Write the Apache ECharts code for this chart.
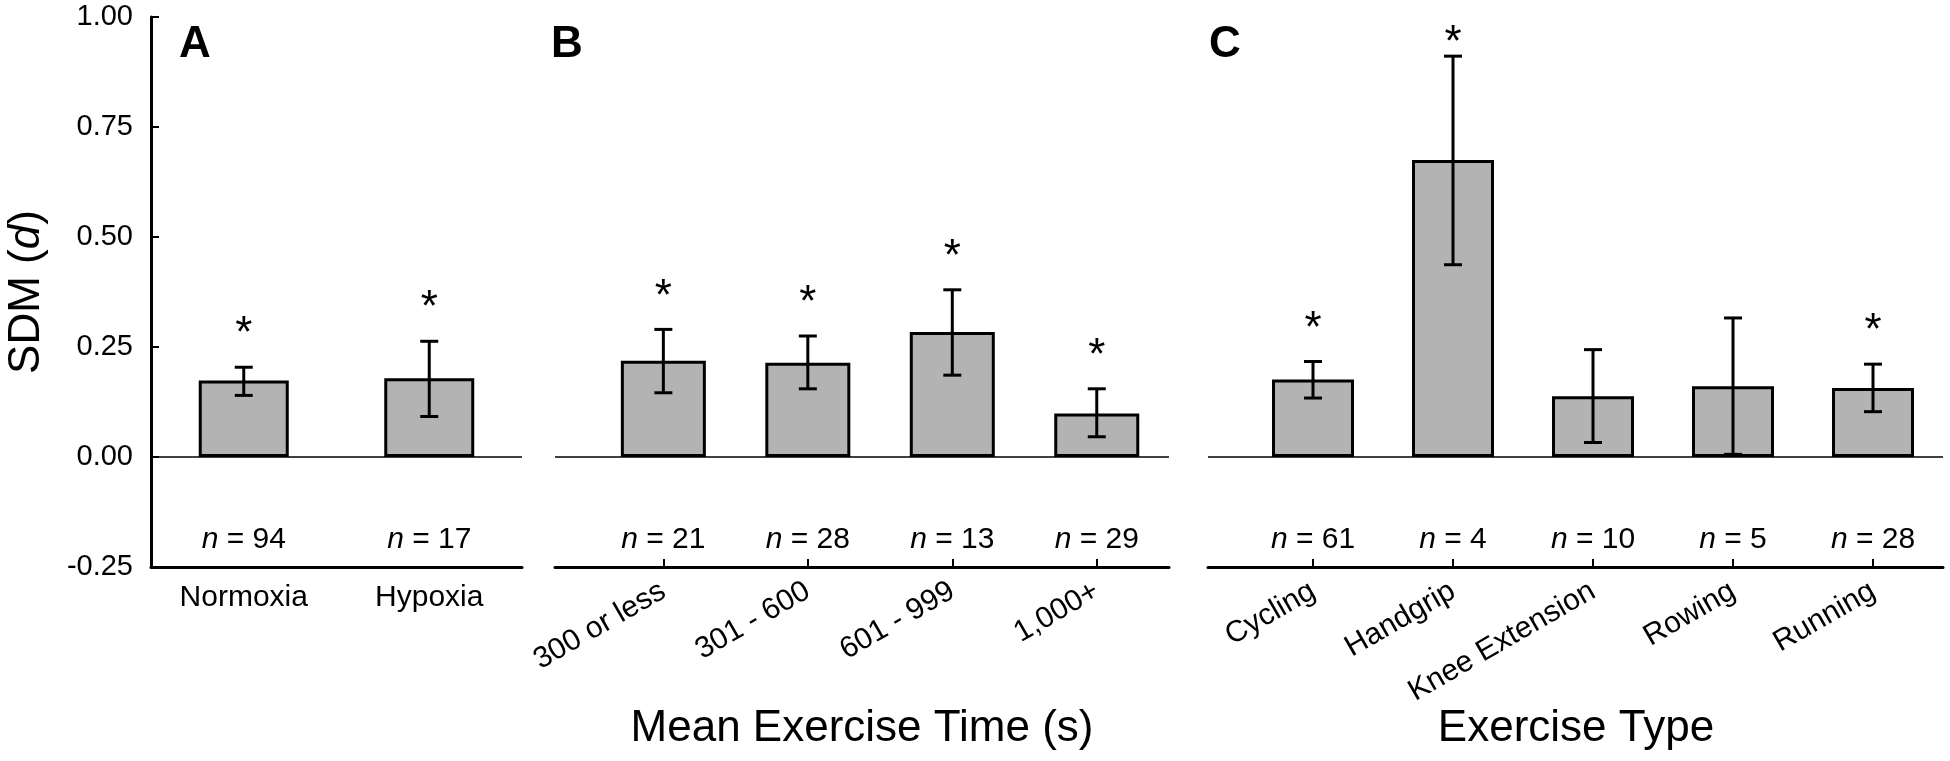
<!DOCTYPE html>
<html><head><meta charset="utf-8">
<script src="https://cdn.jsdelivr.net/npm/echarts@6/dist/echarts.min.js"></script>
<style>html,body{margin:0;padding:0;background:#fff}#c{width:1950px;height:761px}</style>
</head><body><div id="c"></div>
<script>
// ---- data ----
const yTickMin = -0.25, yTickMax = 1.0, yTickStep = 0.25;

const catsA = ['Normoxia', 'Hypoxia'];
const meanA = [0.174, 0.179];
const lowA  = [0.140, 0.092];
const highA = [0.204, 0.263];
const nA    = [94, 17];
const sigA  = [1, 1];

const catsB = ['300 or less', '301 - 600', '601 - 999', '1,000+'];
const meanB = [0.219, 0.214, 0.284, 0.099];
const lowB  = [0.146, 0.155, 0.186, 0.046];
const highB = [0.290, 0.275, 0.380, 0.155];
const nB    = [21, 28, 13, 29];
const sigB  = [1, 1, 1, 1];

const catsC = ['Cycling', 'Handgrip', 'Knee Extension', 'Rowing', 'Running'];
const meanC = [0.176, 0.675, 0.138, 0.161, 0.157];
const lowC  = [0.134, 0.437, 0.033, 0.006, 0.103];
const highC = [0.217, 0.911, 0.244, 0.316, 0.211];
const nC    = [61, 4, 10, 5, 28];
const sigC  = [1, 1, 0, 0, 1];

const nLabelY = -0.187;

// ---- chart ----
const FF = '"Liberation Sans", Arial, Helvetica, sans-serif';
const chart = echarts.init(document.getElementById('c'), null, {renderer: 'canvas'});

const panels = [
  {cats: catsA, mean: meanA, low: lowA, high: highA, n: nA, sig: sigA, left: 151, width: 371, min: 0.5, max: 2.5, barW: 90, ticks: false, rotate: 0},
  {cats: catsB, mean: meanB, low: lowB, high: highB, n: nB, sig: sigB, left: 555, width: 614, min: 0.25, max: 4.5, barW: 85, ticks: true, rotate: 30},
  {cats: catsC, mean: meanC, low: lowC, high: highC, n: nC, sig: sigC, left: 1208, width: 735, min: 0.25, max: 5.5, barW: 82, ticks: true, rotate: 30}
];

function errItem(params, api) {
  const x = api.value(0), lo = api.value(1), hi = api.value(2), s = api.value(3);
  const top = api.coord([x, hi]), bot = api.coord([x, lo]);
  const cap = 9;
  const ls = {stroke: '#000', lineWidth: 3};
  const ch = [
    {type: 'line', shape: {x1: top[0], y1: top[1], x2: bot[0], y2: bot[1]}, style: ls},
    {type: 'line', shape: {x1: top[0] - cap, y1: top[1], x2: top[0] + cap, y2: top[1]}, style: ls},
    {type: 'line', shape: {x1: bot[0] - cap, y1: bot[1], x2: bot[0] + cap, y2: bot[1]}, style: ls}
  ];
  if (s) ch.push({type: 'text', x: top[0], y: Math.max(top[1] - 32, 44),
    style: {text: '*', fontSize: 44, fontFamily: FF, fill: '#000', align: 'center', verticalAlign: 'middle'}});
  return {type: 'group', children: ch};
}

function nItem(params, api) {
  const p = api.coord([api.value(0), api.value(1)]);
  return {type: 'text', x: p[0], y: p[1],
    style: {text: '{i|n} = ' + api.value(2), fontSize: 30, fontFamily: FF, fill: '#000',
      align: 'center', verticalAlign: 'middle',
      rich: {i: {fontStyle: 'italic', fontSize: 30, fontFamily: FF, fill: '#000'}}}};
}

const grid = [], xAxis = [], yAxis = [], series = [];
panels.forEach((p, k) => {
  grid.push({left: p.left, width: p.width, top: 17, bottom: 194, containLabel: false});
  const vals = p.cats.map((c, i) => i + 1);
  xAxis.push({
    type: 'value', gridIndex: k, min: p.min, max: p.max,
    axisLine: {show: true, onZero: false, lineStyle: {color: '#000', width: 3}},
    axisTick: {show: p.ticks, inside: true, length: 8, lineStyle: {color: '#000', width: 2}, customValues: vals},
    splitLine: {show: false},
    axisLabel: {customValues: vals, formatter: v => p.cats[Math.round(v) - 1], rotate: p.rotate,
      fontSize: 30, color: '#000', fontFamily: FF, margin: p.rotate ? 22 : 16}
  });
  yAxis.push({
    type: 'value', gridIndex: k, min: yTickMin, max: yTickMax, interval: yTickStep,
    show: k === 0,
    axisLine: {show: true, lineStyle: {color: '#000', width: 3}},
    axisTick: {show: true, inside: true, length: 8, lineStyle: {color: '#000', width: 2}},
    splitLine: {show: false},
    axisLabel: {formatter: v => v.toFixed(2), fontSize: 29, color: '#000', fontFamily: FF, margin: 18}
  });
  series.push({
    type: 'bar', xAxisIndex: k, yAxisIndex: k, barWidth: p.barW,
    data: p.mean.map((v, i) => [i + 1, v]),
    itemStyle: {color: '#b3b3b3', borderColor: '#000', borderWidth: 3},
    markLine: {silent: true, symbol: 'none', label: {show: false},
      lineStyle: {color: '#000', width: 1.5, type: 'solid'}, data: [{yAxis: 0}]},
    z: 2
  });
  series.push({
    type: 'custom', xAxisIndex: k, yAxisIndex: k, renderItem: errItem, z: 5,
    data: p.mean.map((v, i) => [i + 1, p.low[i], p.high[i], p.sig[i]])
  });
  series.push({
    type: 'custom', xAxisIndex: k, yAxisIndex: k, renderItem: nItem, z: 5,
    data: p.n.map((v, i) => [i + 1, nLabelY, v])
  });
});

const txt = (t, x, y, size, extra) => Object.assign({type: 'text', x: x, y: y, silent: true,
  style: Object.assign({text: t, fontSize: size, fontFamily: FF, fill: '#000', align: 'center', verticalAlign: 'middle',
    textAlign: 'center', textVerticalAlign: 'middle'}, extra && extra.style || {})}, extra && extra.el || {});

chart.setOption({
  animation: false,
  backgroundColor: '#fff',
  grid, xAxis, yAxis, series,
  graphic: [
    txt('{a|SDM (}{i|d}{a|)}', 27, 292, 44, {el: {rotation: Math.PI / 2},
      style: {rich: {
        a: {fontSize: 44, fontFamily: FF, fill: '#000'},
        i: {fontStyle: 'italic', fontSize: 44, fontFamily: FF, fill: '#000'}}}}),
    txt('Mean Exercise Time (s)', 862, 729, 44),
    txt('Exercise Type', 1576, 729, 44),
    txt('A', 179, 45, 44, {style: {fontWeight: 'bold', align: 'left', textAlign: 'left'}}),
    txt('B', 551, 45, 44, {style: {fontWeight: 'bold', align: 'left', textAlign: 'left'}}),
    txt('C', 1209, 45, 44, {style: {fontWeight: 'bold', align: 'left', textAlign: 'left'}})
  ]
});
</script>
</body></html>
